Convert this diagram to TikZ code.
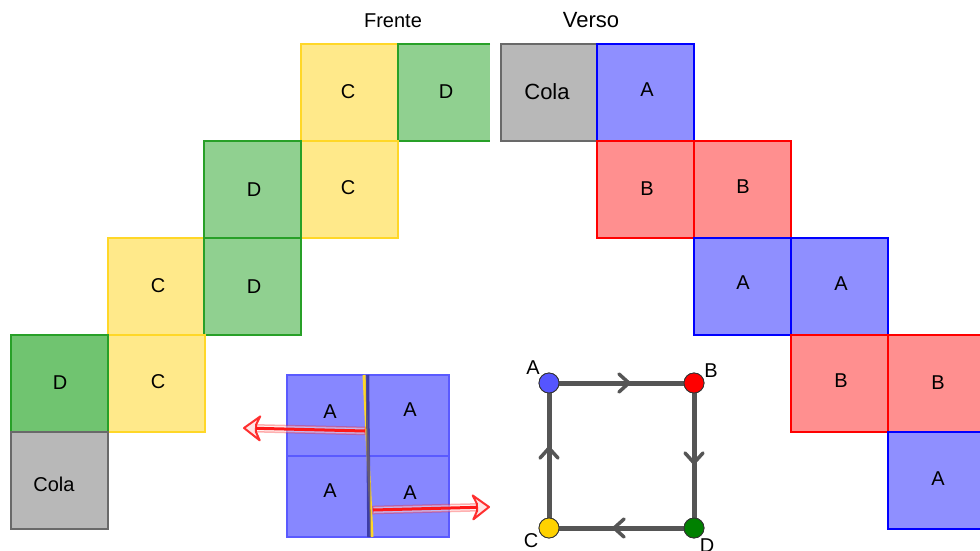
\documentclass[tikz,border=0pt]{standalone}
\usepackage{fontspec}
\setmainfont{Liberation Sans}
\usetikzlibrary{arrows.meta,decorations.markings,calc}
\definecolor{yfill}{RGB}{255,233,138}
\definecolor{yline}{RGB}{255,215,40}
\definecolor{gfill}{RGB}{144,208,144}
\definecolor{gfilld}{RGB}{112,196,112}
\definecolor{gline}{RGB}{40,160,40}
\definecolor{bfill}{RGB}{143,143,255}
\definecolor{bline}{RGB}{0,0,255}
\definecolor{rfill}{RGB}{255,143,143}
\definecolor{rline}{RGB}{255,0,0}
\definecolor{kfill}{RGB}{184,184,184}
\definecolor{kline}{RGB}{105,105,105}
\definecolor{sfill}{RGB}{135,135,255}
\definecolor{sline}{RGB}{90,90,255}
\definecolor{edgegray}{RGB}{85,85,85}
\definecolor{pA}{RGB}{85,85,255}
\definecolor{pC}{RGB}{255,210,0}
\definecolor{pD}{RGB}{0,128,0}
\definecolor{navy}{RGB}{50,50,140}
\begin{document}
\begin{tikzpicture}[x=1pt,y=-1pt,
  cellY/.style={fill=yfill, draw=yline, line width=2.5pt},
  cellG/.style={fill=gfill, draw=gline, line width=2.5pt},
  cellGd/.style={fill=gfilld, draw=gline, line width=2.5pt},
  cellB/.style={fill=bfill, draw=bline, line width=2.5pt},
  cellR/.style={fill=rfill, draw=rline, line width=2.5pt},
  cellK/.style={fill=kfill, draw=kline, line width=2.5pt},
  small/.style={fill=sfill, draw=sline, line width=2pt},
  lab/.style={font=\fontsize{20}{24}\selectfont, inner sep=0pt},
  bigl/.style={font=\fontsize{22}{26}\selectfont, inner sep=0pt},
  pt/.style={circle, draw=black!80, line width=0.8pt, minimum size=20pt, inner sep=0pt},
  edge/.style={draw=edgegray, line width=5pt, postaction={decorate},
    decoration={markings, mark=at position 0.56 with {\draw[edgegray, line width=3.5pt, line cap=round, line join=miter] (-10,9)--(0,0)--(-10,-9);}}},
  fathead/.style={draw=red, draw opacity=0.8, fill=red!10, line width=2pt, line join=round},
  fatshaft/.style={draw=red, draw opacity=0.3, fill=red!10, fill opacity=0.5, line width=1.5pt},
  vec/.style={draw=red!90, line width=3pt}
]
\useasboundingbox (0,0) rectangle (980,551);
\clip (0,0) rectangle (980,551);

% ---------- Frente ----------
\node[lab] (tfrente) at (393,21) {Frente};
\path[cellY] (301,44) rectangle ++(97,97);
\fill[gfill] (398,44) rectangle (490,141);
\draw[gline, line width=2.5pt] (490,44) -- (398,44) -- (398,141) -- (490,141);
\path[cellY] (301,141) rectangle ++(97,97);
\path[cellG] (204,141) rectangle ++(97,97);
\path[cellY] (108,238) rectangle ++(97,97);
\path[cellG] (204,238) rectangle ++(97,97);
\path[cellY] (108,335) rectangle ++(97,97);
\path[cellGd] (11,335) rectangle ++(97,97);
\path[cellK] (11,432) rectangle ++(97,97);

\node[lab] (f1) at (348,92) {C};
\node[lab] (f2) at (446,92) {D};
\node[lab] (f3) at (348,188) {C};
\node[lab] (f4) at (254,190) {D};
\node[lab] (f5) at (158,286) {C};
\node[lab] (f6) at (254,287) {D};
\node[lab] (f7) at (60,383) {D};
\node[lab] (f8) at (158,382) {C};
\node[lab] (f9) at (54,484) {Cola};

% ---------- Verso ----------
\node[bigl] (tverso) at (591,20) {Verso};
\path[cellK] (501,44) rectangle ++(96,97);
\path[cellB] (597,44) rectangle ++(97,97);
\path[cellR] (597,141) rectangle ++(97,97);
\path[cellR] (694,141) rectangle ++(97,97);
\path[cellB] (694,238) rectangle ++(97,97);
\path[cellB] (791,238) rectangle ++(97,97);
\path[cellR] (791,335) rectangle ++(97,97);
\path[cellR] (888,335) rectangle ++(97,97);
\path[cellB] (888,432) rectangle ++(97,97);

\node[bigl] (v1) at (547,92) {Cola};
\node[lab] (v2) at (647,90) {A};
\node[lab] (v3) at (647,189) {B};
\node[lab] (v4) at (743,187) {B};
\node[lab] (v5) at (743,283) {A};
\node[lab] (v6) at (841,284) {A};
\node[lab] (v7) at (841,381) {B};
\node[lab] (v8) at (938,383) {B};
\node[lab] (v9) at (938,479) {A};

% ---------- 2x2 square ----------
\path[small] (287,375) rectangle (368,456);
\path[small] (368,375) rectangle (449,456);
\path[small] (287,456) rectangle (368,537);
\path[small] (368,456) rectangle (449,537);
\draw[yline, line width=3pt] (364,375) -- (372,537);
\draw[navy, opacity=0.75, line width=3.5pt] (367.5,375) -- (369,537);
\node[lab] (s1) at (330,412) {A};
\node[lab] (s2) at (410,410) {A};
\node[lab] (s3) at (330,491) {A};
\node[lab] (s4) at (410,493) {A};

% vectors (hollow arrows with a red line)
\coordinate (l0) at (365,431);
\coordinate (l2) at (244,428);
\coordinate (r0) at (373,510);
\coordinate (r2) at (489,507);
\begin{scope}[shift={(l2)}, rotate=178.6]
  \path[fatshaft] (-12,3.5) -- (-121,3.5) -- (-121,-3.5) -- (-12,-3.5) -- cycle;
  \path[fathead] (0,0) -- (-16,12) -- (-12,3.5) -- (-12,-3.5) -- (-16,-12) -- cycle;
\end{scope}
\begin{scope}[shift={(r2)}, rotate=1.5]
  \path[fatshaft] (-12,3.5) -- (-116,3.5) -- (-116,-3.5) -- (-12,-3.5) -- cycle;
  \path[fathead] (0,0) -- (-16,12) -- (-12,3.5) -- (-12,-3.5) -- (-16,-12) -- cycle;
\end{scope}
\draw[vec] (l0) -- ($(l2)!0.1!(l0)$);
\draw[vec] (r0) -- ($(r2)!0.1!(r0)$);

% ---------- graph ----------
\node[pt, fill=pA] (A) at (549,383) {};
\node[pt, fill=red] (B) at (694,383) {};
\node[pt, fill=pC] (C) at (549,528) {};
\node[pt, fill=pD] (D) at (694,528) {};
\path[edge] (A) -- (B);
\path[edge] (B) -- (D);
\path[edge] (D) -- (C);
\path[edge] (C) -- (A);
\node[pt, fill=pA] at (A) {};
\node[pt, fill=red] at (B) {};
\node[pt, fill=pC] at (C) {};
\node[pt, fill=pD] at (D) {};
\node[lab] (tA) at (533,368) {A};
\node[lab] (tB) at (711,371) {B};
\node[lab] (tC) at (531,541) {C};
\node[lab] (tD) at (707,546) {D};
\end{tikzpicture}
\end{document}
